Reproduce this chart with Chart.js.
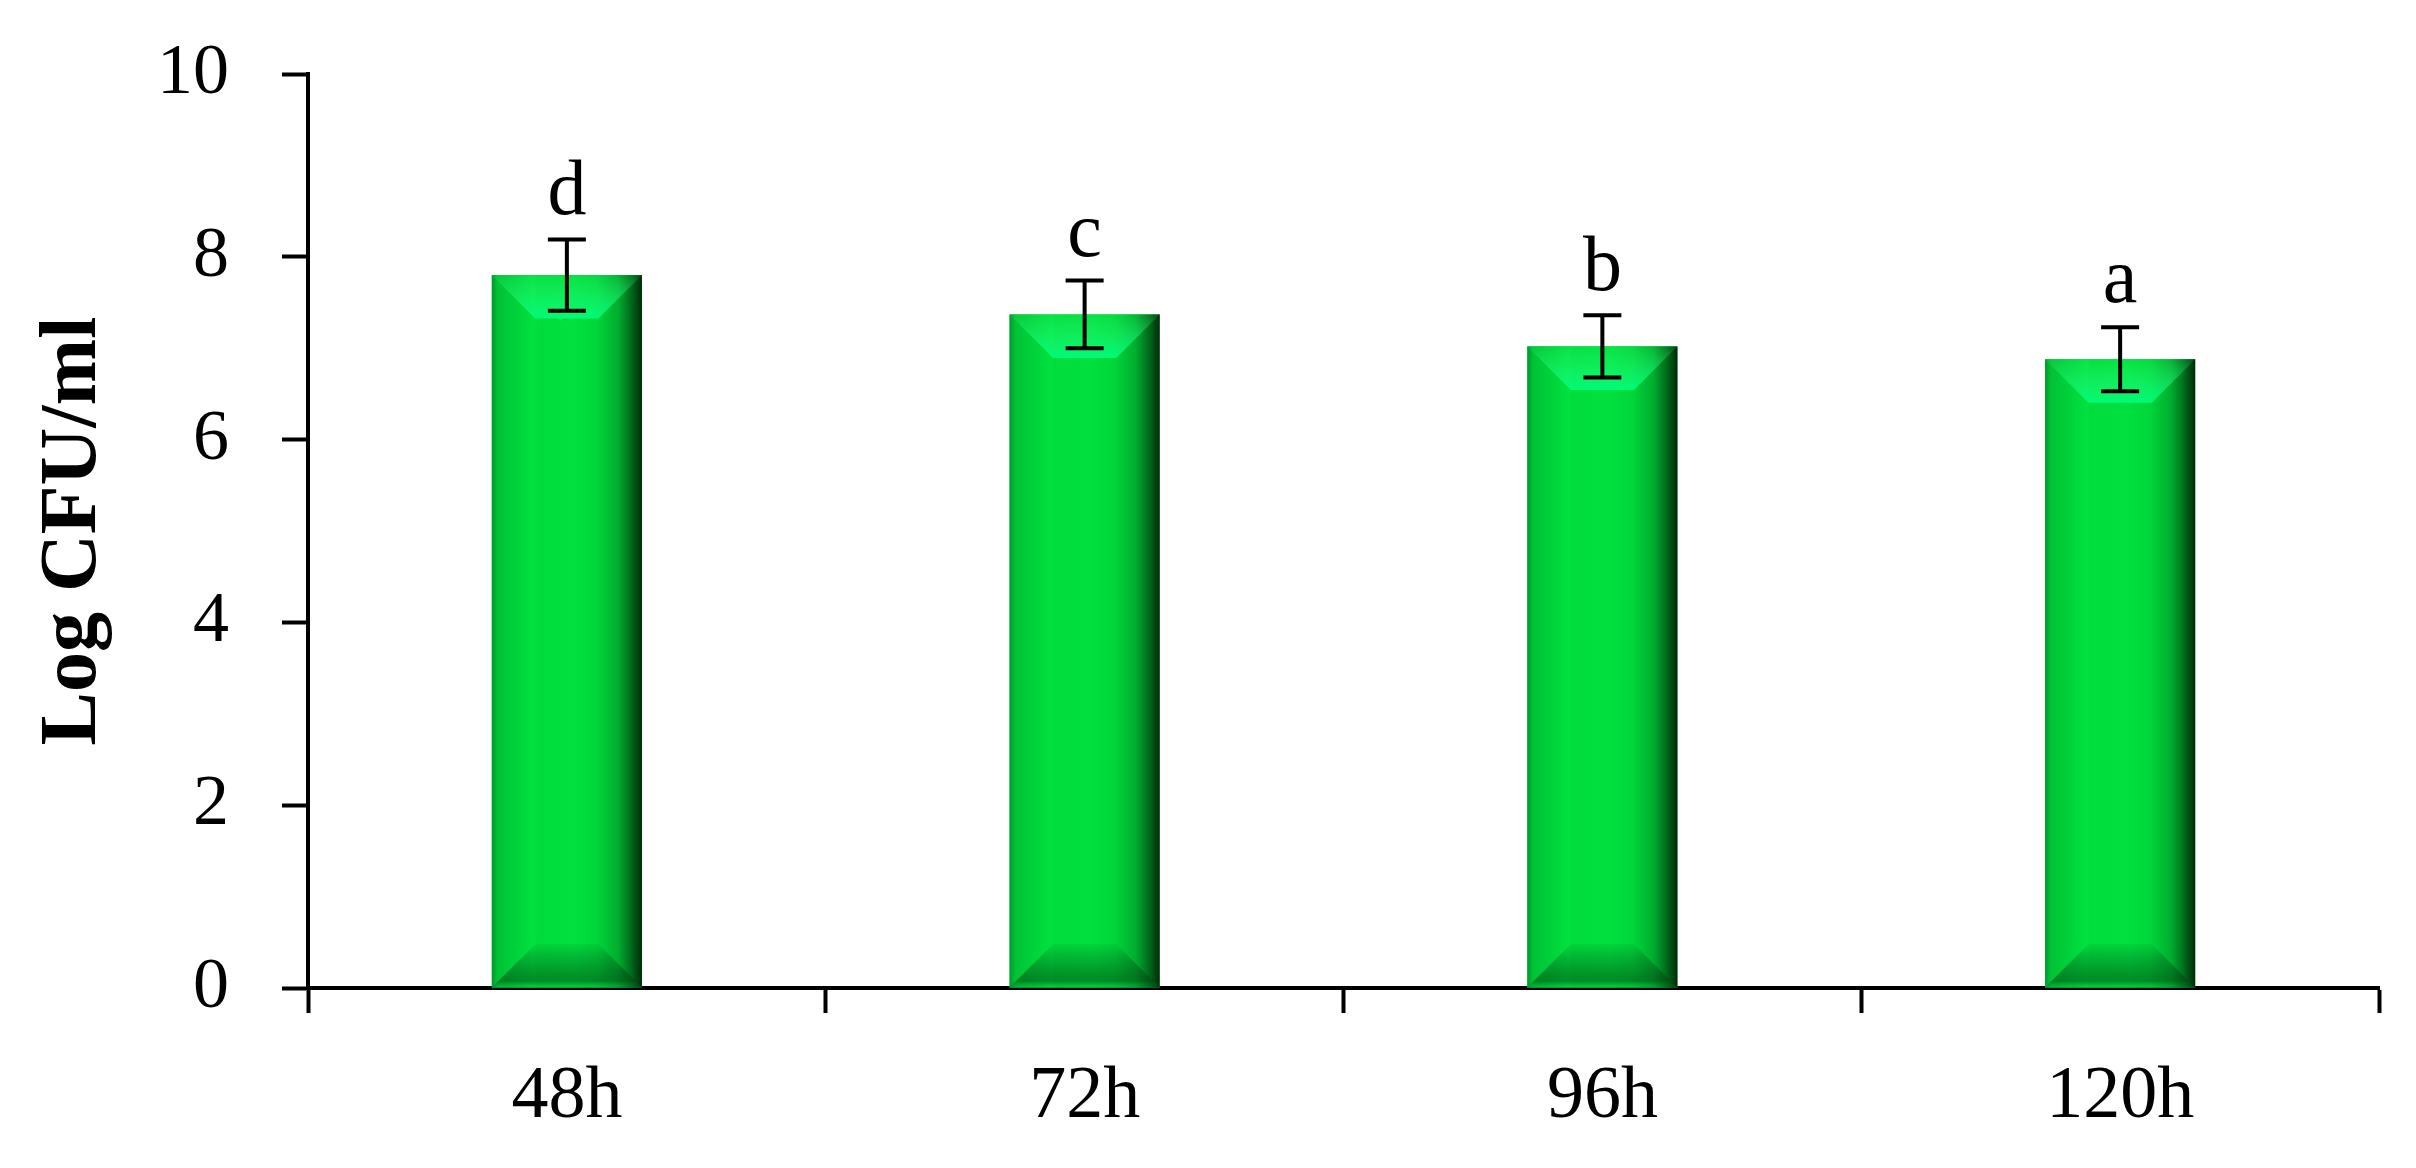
<!DOCTYPE html>
<html>
<head>
<meta charset="utf-8">
<title>Log CFU/ml</title>
<script src="https://cdn.jsdelivr.net/npm/chart.js@4.4.1/dist/chart.umd.min.js"></script>
<style>
  html, body { margin: 0; padding: 0; background: #fff; }
  canvas { display: block; }
</style>
</head>
<body>
<canvas id="cfuChart" width="2416" height="1168"></canvas>
<script>
// Data
const labels = ['48h', '72h', '96h', '120h'];
const logCfu = [7.80, 7.37, 7.02, 6.88];
const stdErr = [0.39, 0.37, 0.34, 0.35];
const letters = ['d', 'c', 'b', 'a'];
const yTicks = [0, 2, 4, 6, 8, 10];

const serif = "'Liberation Serif', 'Times New Roman', serif";

// Paints the bevelled 3D look over each bar
const bevelPlugin = {
    id: 'bevel',
    afterDatasetsDraw(chart) {
        const ctx = chart.ctx;
        chart.getDatasetMeta(0).data.forEach(bar => {
            const { x, y, base, width } = bar.getProps(['x', 'y', 'base', 'width'], true);
            const l = x - width / 2, r = x + width / 2;
            const b = width * 0.29;
            ctx.save();

            // body: horizontal shading
            const g = ctx.createLinearGradient(l, 0, r, 0);
            g.addColorStop(0, '#009a2c');
            g.addColorStop(0.04, '#00c236');
            g.addColorStop(0.28, '#00e23f');
            g.addColorStop(0.30, '#00dc3c');
            g.addColorStop(0.55, '#00e03e');
            g.addColorStop(0.70, '#00d63a');
            g.addColorStop(0.84, '#00ad2e');
            g.addColorStop(0.93, '#00681a');
            g.addColorStop(1, '#002a08');
            ctx.fillStyle = g;
            ctx.fillRect(l, y, width, base - y);

            // top bevel
            const gt = ctx.createLinearGradient(0, y, 0, y + b);
            gt.addColorStop(0, 'rgba(60,255,120,0.10)');
            gt.addColorStop(1, 'rgba(0,255,130,0.85)');
            ctx.fillStyle = gt;
            ctx.beginPath();
            ctx.moveTo(l, y);
            ctx.lineTo(r, y);
            ctx.lineTo(r - b, y + b);
            ctx.lineTo(l + b, y + b);
            ctx.closePath();
            ctx.fill();

            // bottom bevel
            const gb = ctx.createLinearGradient(0, base - b, 0, base);
            gb.addColorStop(0, 'rgba(0,40,10,0.05)');
            gb.addColorStop(0.6, 'rgba(0,60,15,0.4)');
            gb.addColorStop(0.85, 'rgba(0,70,15,0.55)');
            gb.addColorStop(1, 'rgba(0,140,40,0.15)');
            ctx.fillStyle = gb;
            ctx.beginPath();
            ctx.moveTo(l, base);
            ctx.lineTo(r, base);
            ctx.lineTo(r - b, base - b);
            ctx.lineTo(l + b, base - b);
            ctx.closePath();
            ctx.fill();

            ctx.restore();
        });
    }
};

// Error bars and significance letters
const errorBarPlugin = {
    id: 'errorBars',
    afterDatasetsDraw(chart) {
        const ctx = chart.ctx;
        const yScale = chart.scales.y;
        const cap = 19;
        chart.getDatasetMeta(0).data.forEach((bar, i) => {
            const hi = yScale.getPixelForValue(logCfu[i] + stdErr[i]);
            const lo = yScale.getPixelForValue(logCfu[i] - stdErr[i]);
            ctx.save();
            ctx.strokeStyle = '#000';
            ctx.lineWidth = 4;
            ctx.beginPath();
            ctx.moveTo(bar.x, hi);
            ctx.lineTo(bar.x, lo);
            ctx.moveTo(bar.x - cap, hi);
            ctx.lineTo(bar.x + cap, hi);
            ctx.moveTo(bar.x - cap, lo);
            ctx.lineTo(bar.x + cap, lo);
            ctx.stroke();

            ctx.fillStyle = '#000';
            ctx.font = '78px ' + serif;
            ctx.textAlign = 'center';
            ctx.textBaseline = 'alphabetic';
            ctx.fillText(letters[i], bar.x, hi - 25);
            ctx.restore();
        });
    }
};

const ctx = document.getElementById('cfuChart');

new Chart(ctx, {
    type: 'bar',
    data: {
        labels: labels,
        datasets: [{
            data: logCfu,
            backgroundColor: '#00dd3a',
            borderWidth: 0,
            categoryPercentage: 1,
            barPercentage: 0.29
        }]
    },
    options: {
        responsive: false,
        animation: false,
        devicePixelRatio: 1,
        layout: {
            padding: { left: 0, right: 37, top: 74, bottom: 0 }
        },
        plugins: {
            legend: { display: false },
            tooltip: { enabled: false }
        },
        scales: {
            x: {
                z: 1,
                offset: true,
                afterFit: scale => {
                    scale.height = 180;
                    scale.paddingLeft = 0;
                    scale.paddingRight = 0;
                },
                grid: {
                    display: true,
                    offset: true,
                    drawOnChartArea: false,
                    tickLength: 25,
                    tickWidth: 4,
                    tickColor: '#000'
                },
                border: { display: true, color: '#000', width: 4 },
                ticks: {
                    color: '#000',
                    padding: 40,
                    font: { family: serif, size: 74 }
                }
            },
            y: {
                z: 1,
                min: 0,
                max: 10,
                afterFit: scale => {
                    scale.width = 308;
                    scale.paddingTop = 0;
                    scale.paddingBottom = 0;
                },
                afterBuildTicks: scale => {
                    scale.ticks = yTicks.map(v => ({ value: v }));
                },
                grid: {
                    display: true,
                    drawOnChartArea: false,
                    tickLength: 26,
                    tickWidth: 4,
                    tickColor: '#000'
                },
                border: { display: true, color: '#000', width: 4 },
                ticks: {
                    color: '#000',
                    padding: 53,
                    font: { family: serif, size: 72 }
                },
                title: {
                    display: true,
                    text: 'Log CFU/ml',
                    color: '#000',
                    padding: { top: 26, bottom: 0 },
                    font: { family: serif, size: 80, weight: 'bold' }
                }
            }
        }
    },
    plugins: [bevelPlugin, errorBarPlugin]
});
</script>
</body>
</html>
